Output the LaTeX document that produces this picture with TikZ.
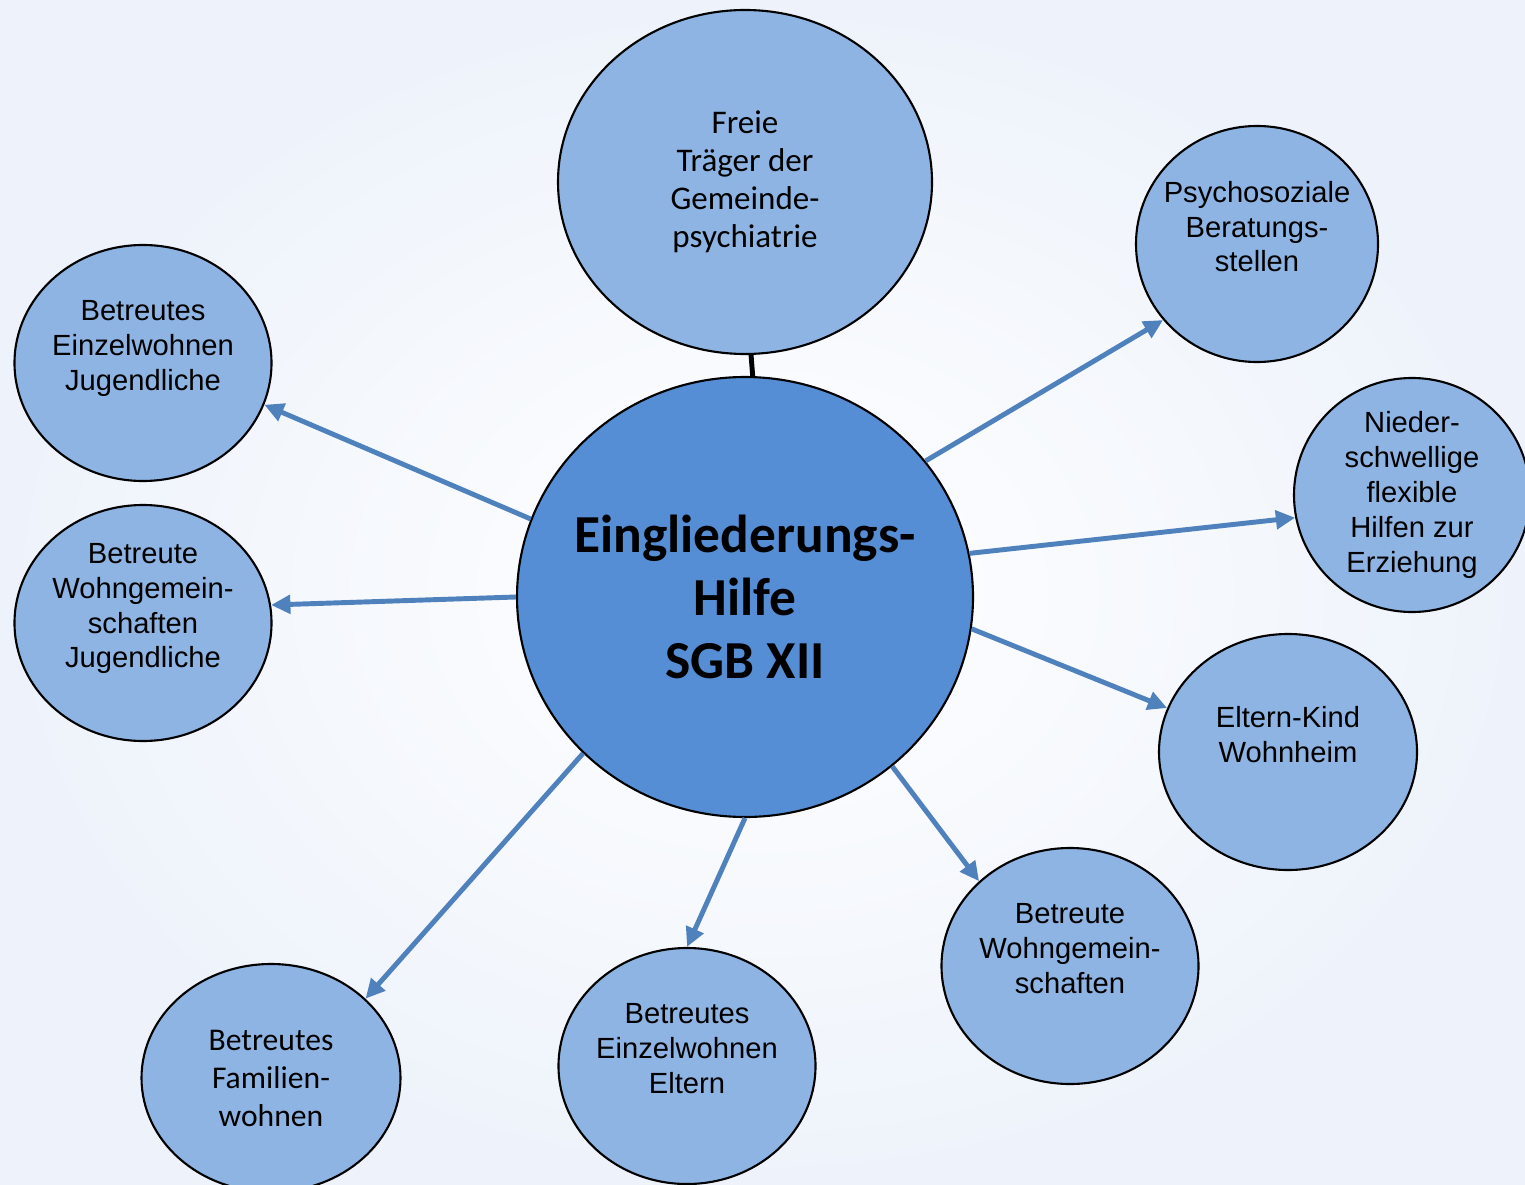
\documentclass[tikz,border=0pt]{standalone}
\usepackage{fontspec}
\setmainfont{Liberation Sans}
\newfontfamily\calibfont{Carlito}
\usetikzlibrary{shapes.geometric,arrows.meta}
\definecolor{bgblue}{RGB}{238,243,251}
\definecolor{lightcircle}{RGB}{142,180,227}
\definecolor{maincircle}{RGB}{85,142,213}
\definecolor{arrowblue}{RGB}{79,129,189}

\begin{document}
\begin{tikzpicture}[
    bubble/.style={ellipse, draw=black, line width=0.6pt, fill=lightcircle, inner sep=-14pt,
      minimum width=2.57cm, minimum height=2.36cm, align=center, font=\fontsize{8.3}{9.9}\selectfont},
    link/.style={draw=arrowblue, line width=1.4pt, -{Triangle[length=5.5pt,width=5.2pt]}}
  ]
    \useasboundingbox (0,0) rectangle (15.25,-11.84);
    \shade[inner color=white, outer color=bgblue] (0,0) rectangle (15.25,-11.84);

    \node[bubble, minimum width=3.74cm, minimum height=3.44cm, font=\calibfont\fontsize{9.4}{10.8}\selectfont] (freie) at (7.45,-1.82)
      {Freie\\Träger der\\Gemeinde-\\psychiatrie};
    \node[bubble, fill=maincircle, minimum width=4.56cm, minimum height=4.40cm, font=\calibfont\bfseries\fontsize{15.2}{18}\selectfont] (central) at (7.45,-5.97)
      {Eingliederungs-\\Hilfe\\SGB XII};

    \node[bubble, minimum width=2.42cm] (psy) at (12.57,-2.44) {Psychosoziale\\Beratungs-\\stellen\\~};
    \node[bubble, minimum width=2.36cm, minimum height=2.34cm] (nieder) at (14.12,-4.95)
      {Nieder-\\schwellige\\flexible\\Hilfen zur\\Erziehung};
    \node[bubble, minimum width=2.58cm] (elternkind) at (12.88,-7.52) {Eltern-Kind\\Wohnheim\\~};
    \node[bubble] (wgright) at (10.70,-9.66) {Betreute\\Wohngemein-\\schaften\\~};
    \node[bubble] (ewEltern) at (6.87,-10.66) {Betreutes\\Einzelwohnen\\Eltern\\~};
    \node[bubble, minimum width=2.59cm, minimum height=2.28cm, font=\calibfont\fontsize{9}{10.8}\selectfont] (familien) at (2.71,-10.78)
      {Betreutes\\Familien-\\wohnen};
    \node[bubble] (ewJugend) at (1.43,-3.63) {Betreutes\\Einzelwohnen\\Jugendliche\\~};
    \node[bubble] (wgJugend) at (1.43,-6.23) {Betreute\\Wohngemein-\\schaften\\Jugendliche\\~};

    \draw[line width=1.4pt] (freie.-88) -- (central.88);

    \draw[link] (central.37) -- (psy.219);
    \draw[link] (central.11) -- (nieder.191.6);
    \draw[link] (central.-8.4) -- (elternkind.160);
    \draw[link] (central.-49) -- (wgright.137);
    \draw[link] (central.-90) -- (ewEltern.90);
    \draw[link] (central.224) -- (familien.40);
    \draw[link] (central.160) -- (ewJugend.-19);
    \draw[link] (central.180) -- (wgJugend.8);
  \end{tikzpicture}
\end{document}
